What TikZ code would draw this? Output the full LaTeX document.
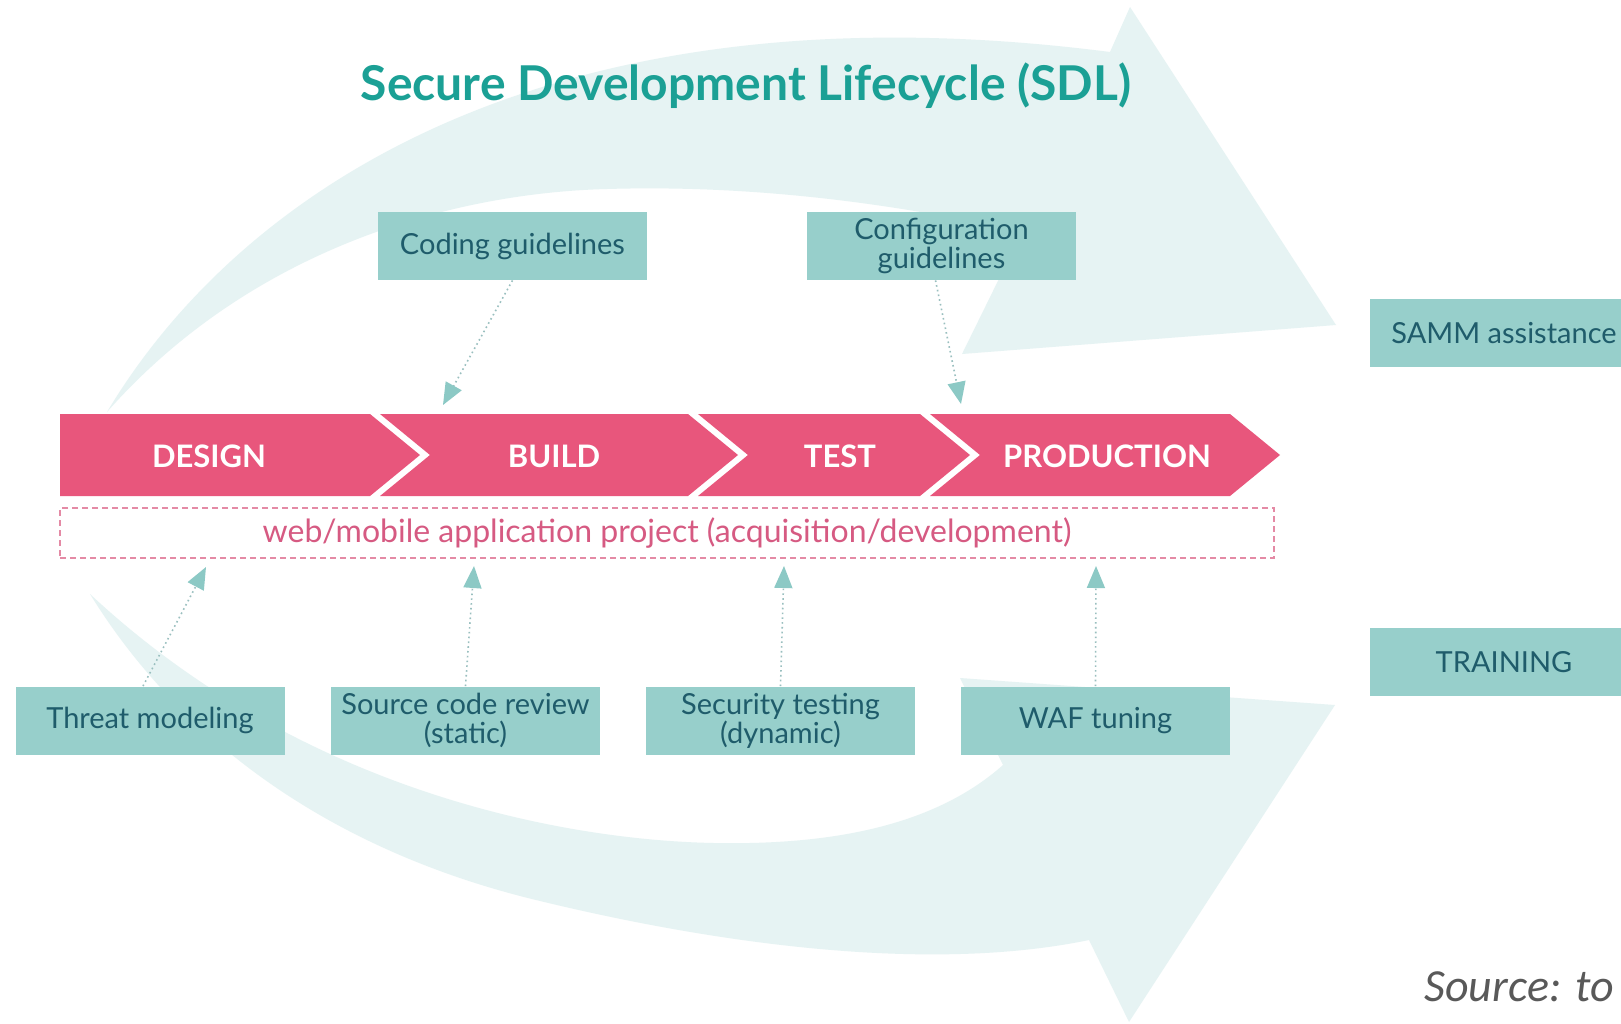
\documentclass[tikz,border=0pt]{standalone}
\usepackage{fontspec}
\setmainfont{Lato}
\newfontfamily\carlito{Carlito}
\usetikzlibrary{arrows.meta}
\definecolor{bgarrow}{HTML}{E6F3F3}
\definecolor{boxfill}{HTML}{97CFCB}
\definecolor{boxtext}{HTML}{1F5C6B}
\definecolor{phasepink}{HTML}{E8567C}
\definecolor{dashpink}{HTML}{E48AA5}
\definecolor{textpink}{HTML}{D65A82}
\definecolor{titleteal}{HTML}{1BA095}
\definecolor{tipteal}{HTML}{8CC9C5}
\definecolor{dotline}{HTML}{99BFBF}
\definecolor{srcgray}{HTML}{595959}
\tikzset{
  infobox/.style={fill=boxfill, text=boxtext, minimum width=134.5pt, minimum height=34pt,
    inner sep=0pt, align=center, font=\fontsize{14.5}{14.5}\selectfont},
  phaselbl/.style={text=white, inner sep=0pt, font=\bfseries\fontsize{15.5}{17}\selectfont},
  phasefill/.style={fill=phasepink},
  dotarrow/.style={draw=dotline, line width=0.8pt, dash pattern=on 0.8pt off 1.6pt,
    -{Triangle[length=11pt,width=9pt,color=tipteal]}}
}
\begin{document}
\begin{tikzpicture}[x=0.5pt,y=-0.5pt]
\useasboundingbox (0,0) rectangle (1621,1023);
\fill[white] (0,0) rectangle (1621,1023);
% background arrows
\fill[bgarrow] (107,412) .. controls (240,190) and (550,-20) .. (1110,52)
  -- (1130,7) -- (1336,325) -- (962,354) -- (1022,232)
  .. controls (880,200) and (740,185) .. (607,189)
  .. controls (450,193) and (250,250) .. (107,412) -- cycle;
\fill[bgarrow] (90,594) .. controls (180,740) and (330,850) .. (536,900)
  .. controls (700,940) and (920,975) .. (1089,940)
  -- (1129,1022) -- (1335,705) -- (960,678) -- (1003,765)
  .. controls (930,830) and (820,845) .. (714,843)
  .. controls (560,840) and (300,790) .. (90,594) -- cycle;
% title
\node[text=titleteal, font=\bfseries\fontsize{24}{27}\selectfont] (title) at (746,86) {Secure Development Lifecycle (SDL)};
% chevrons
\fill[phasefill] (60,414) -- (370,414) -- (420,455) -- (370,496) -- (60,496) -- cycle;
\fill[phasefill] (380,414) -- (688,414) -- (738,455) -- (688,496) -- (380,496) -- (430,455) -- cycle;
\fill[phasefill] (698,414) -- (920,414) -- (970,455) -- (920,496) -- (698,496) -- (748,455) -- cycle;
\fill[phasefill] (930,414) -- (1230,414) -- (1280,455) -- (1230,496) -- (930,496) -- (980,455) -- cycle;
\node[phaselbl] (design) at (209,456) {DESIGN};
\node[phaselbl] (build) at (554,456) {BUILD};
\node[phaselbl] (test) at (840,456) {TEST};
\node[phaselbl] (prod) at (1107,456) {PRODUCTION};
% project box
\node[draw=dashpink, line width=0.75pt, dash pattern=on 3pt off 2pt, minimum width=607pt, minimum height=25pt,
  inner sep=0pt, text=textpink, font=\fontsize{16}{18}\selectfont] (project) at (667,533)
  {web/mobile application project (acquisition/development)};
% info boxes
\node[infobox] (coding) at (512.5,246) {Coding guidelines};
\node[infobox] (config) at (941.5,246) {Configuration\\guidelines};
\fill[boxfill] (1370,299) rectangle (1621,367);
\node[text=boxtext, font=\fontsize{14.5}{14.5}\selectfont] (samm) at (1504,333) {SAMM assistance};
\fill[boxfill] (1370,628) rectangle (1621,696);
\node[text=boxtext, font=\fontsize{14.5}{14.5}\selectfont] (training) at (1504,662) {TRAINING};
\node[infobox] (threat) at (150,720.5) {Threat modeling};
\node[infobox] (srcrev) at (465.5,720.5) {Source code review\\(static)};
\node[infobox] (sectest) at (780.5,720.5) {Security testing\\(dynamic)};
\node[infobox] (waf) at (1095.5,720.5) {WAF tuning};
% arrow targets
\coordinate (tBuild) at (443,405);
\coordinate (tProd) at (961,404);
\coordinate (tThreat) at (206,567);
\coordinate (tSrc) at (474,566);
\coordinate (tSec) at (784,566);
\coordinate (tWaf) at (1096,566);
\draw[dotarrow] (coding.south) -- (tBuild);
\draw[dotarrow] ([xshift=-3pt]config.south) -- (tProd);
\draw[dotarrow] ([xshift=-3.5pt]threat.north) -- (tThreat);
\draw[dotarrow] (srcrev.north) -- (tSrc);
\draw[dotarrow] (sectest.north) -- (tSec);
\draw[dotarrow] (waf.north) -- (tWaf);
% source
\node[anchor=west, text=srcgray, inner sep=0pt, font=\carlito\itshape\fontsize{23}{25}\selectfont] (source) at (1424,987) {Source: to};
\end{tikzpicture}
\end{document}
